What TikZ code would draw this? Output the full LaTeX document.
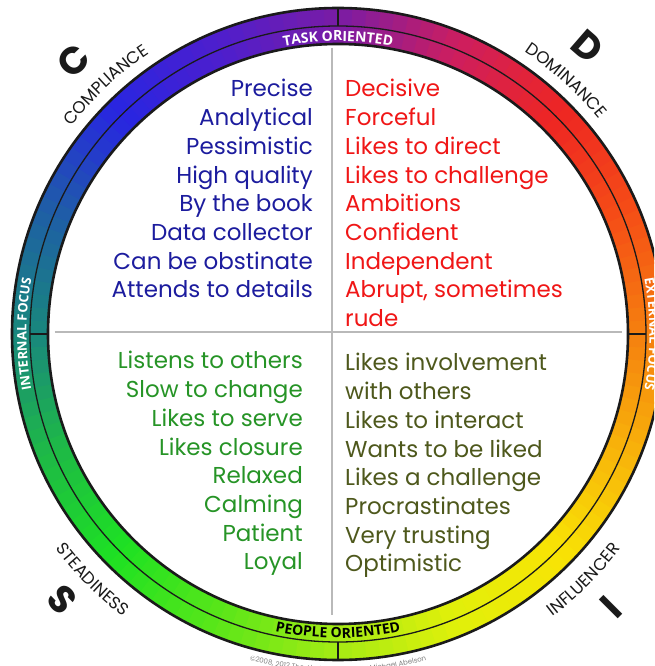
\documentclass[tikz,border=0pt]{standalone}
\usepackage{fontspec}
\setmainfont{Poppins}
\newfontfamily\bandfont{Open Sans}
\usetikzlibrary{decorations.text}

\definecolor{inkgray}{RGB}{26,26,26}
\definecolor{compblue}{RGB}{28,28,158}
\definecolor{domred}{RGB}{240,22,22}
\definecolor{steadygreen}{RGB}{38,148,38}
\definecolor{inflolive}{RGB}{78,88,28}
% colour stops round the ring, every 22.5 degrees from the east
\definecolor{rg0}{RGB}{245,128,15}
\definecolor{rg1}{RGB}{245,78,22}
\definecolor{rg2}{RGB}{238,38,35}
\definecolor{rg3}{RGB}{205,30,95}
\definecolor{rg4}{RGB}{122,28,165}
\definecolor{rg5}{RGB}{78,30,205}
\definecolor{rg6}{RGB}{40,38,225}
\definecolor{rg7}{RGB}{30,95,165}
\definecolor{rg8}{RGB}{25,135,125}
\definecolor{rg9}{RGB}{30,185,70}
\definecolor{rg10}{RGB}{30,225,35}
\definecolor{rg11}{RGB}{90,230,25}
\definecolor{rg12}{RGB}{165,235,20}
\definecolor{rg13}{RGB}{225,240,10}
\definecolor{rg14}{RGB}{248,228,5}
\definecolor{rg15}{RGB}{248,180,10}

\tikzset{
  trait/.style={font=\fontsize{23}{26}\selectfont, inner sep=0pt},
  bigletter/.style={font=\fontsize{38}{42}\selectfont\bfseries, text=inkgray, inner sep=0pt},
  ringedge/.style={draw=inkgray, line width=2.6pt},
  ringmid/.style={draw=inkgray, line width=1.3pt},
  divider/.style={draw=gray!55, line width=1.6pt},
}

\begin{document}
\begin{tikzpicture}[x=1pt, y=1pt]
  \useasboundingbox (-338,-332) rectangle (316,334);
  \clip (-338,-332) rectangle (316,334);
  \fill[white] (-338,-332) rectangle (316,334);

  % coloured ring
  \foreach \k in {0,...,15}{
    \pgfmathtruncatemacro\nk{mod(\k+1,16)}
    \foreach \j in {0,...,8}{
      \pgfmathsetmacro\s{22.5*\k+2.5*\j}
      \pgfmathsetmacro\e{\s+2.9}
      \pgfmathtruncatemacro\p{100-(\j+0.5)*100/9}
      \fill[rg\k!\p!rg\nk] (\s:326) arc[start angle=\s, end angle=\e, radius=326]
        -- (\e:290) arc[start angle=\e, end angle=\s, radius=290] -- cycle;
    }
  }
  \draw[ringedge] (0,0) circle[radius=326];
  \draw[ringedge] (0,0) circle[radius=290];
  \draw[ringmid] (0,0) circle[radius=308];
  \draw[ringmid] (90:308) -- (90:326);
  \draw[ringmid] (270:308) -- (270:326);
  \draw[ringmid] (180:290) -- (180:308);
  \draw[ringmid] (0:290) -- (0:308);

  % band labels
  \path[decorate, decoration={text along path, text align=center,
      text={|\bandfont\bfseries\fontsize{14}{16}\selectfont\color{white}|TASK ORIENTED}}]
    (110:293) arc[start angle=110, end angle=70, radius=293];
  \path[decorate, decoration={text along path, text align=center,
      text={|\bandfont\bfseries\fontsize{14}{16}\selectfont\color{black}|PEOPLE ORIENTED}}]
    (248:304) arc[start angle=248, end angle=292, radius=304];
  \path[decorate, decoration={text along path, text align=center,
      text={|\bandfont\bfseries\fontsize{13}{15}\selectfont\color{white}|INTERNAL FOCUS}}]
    (205:311.5) arc[start angle=205, end angle=155, radius=311.5];
  \path[decorate, decoration={text along path, text align=center,
      text={|\bandfont\bfseries\fontsize{13}{15}\selectfont\color{white}|EXTERNAL FOCUS}}]
    (25:311.5) arc[start angle=25, end angle=-25, radius=311.5];

  % style names round the outside
  \path[decorate, decoration={text along path, text align=center,
      text={|\fontsize{17}{20}\selectfont\color{inkgray}|COMPLIANCE}}]
    (155:338) arc[start angle=155, end angle=111, radius=338];
  \path[decorate, decoration={text along path, text align=center,
      text={|\fontsize{17}{20}\selectfont\color{inkgray}|DOMINANCE}}]
    (70:338) arc[start angle=70, end angle=26, radius=338];
  \path[decorate, decoration={text along path, text align=center,
      text={|\fontsize{17}{20}\selectfont\color{inkgray}|STEADINESS}}]
    (203:355) arc[start angle=203, end angle=247, radius=355];
  \path[decorate, decoration={text along path, text align=center,
      text={|\fontsize{17}{20}\selectfont\color{inkgray}|INFLUENCER}}]
    (293:355) arc[start angle=293, end angle=337, radius=355];
  \path[decorate, decoration={text along path, text align=center,
      text={|\fontsize{7}{8}\selectfont\color{gray}|©2008, 2012 The Abelson Group, Dr Michael Abelson}}]
    (250:338) arc[start angle=250, end angle=290, radius=338];

  \node[bigletter, rotate=44] (lc) at (134:380) {C};
  \node[bigletter, rotate=-41] (ld) at (49:381) {D};
  \node[bigletter, rotate=-46] (ls) at (224:383) {S};
  \node[bigletter, rotate=45] (li) at (-45:386) {I};

  % quadrant dividers
  \draw[divider] (-6,286) -- (-6,-281);
  \draw[divider] (-283,2) -- (284,2);

  \foreach \t [count=\i] in {Precise, Analytical, Pessimistic, High quality,
      By the book, Data collector, Can be obstinate, Attends to details}
    \node[trait, text=compblue, anchor=base east] (comp\i) at (-25,{237-28.7*(\i-1)}) {\t};
  \foreach \t [count=\i] in {Decisive, Forceful, Likes to direct, Likes to challenge,
      Ambitions, Confident, Independent, {Abrupt, sometimes}, rude}
    \node[trait, text=domred, anchor=base west] (dom\i) at (7,{237-28.7*(\i-1)}) {\t};
  \foreach \t [count=\i] in {Listens to others, Slow to change, Likes to serve,
      Likes closure, Relaxed, Calming, Patient, Loyal}
    \node[trait, text=steadygreen, anchor=base east] (stdy\i) at (-35,{-35-28.7*(\i-1)}) {\t};
  \foreach \t [count=\i] in {Likes involvement, with others, Likes to interact,
      Wants to be liked, Likes a challenge, Procrastinates, Very trusting, Optimistic}
    \node[trait, text=inflolive, anchor=base west] (infl\i) at (7,{-37-28.7*(\i-1)}) {\t};
\end{tikzpicture}
\end{document}
